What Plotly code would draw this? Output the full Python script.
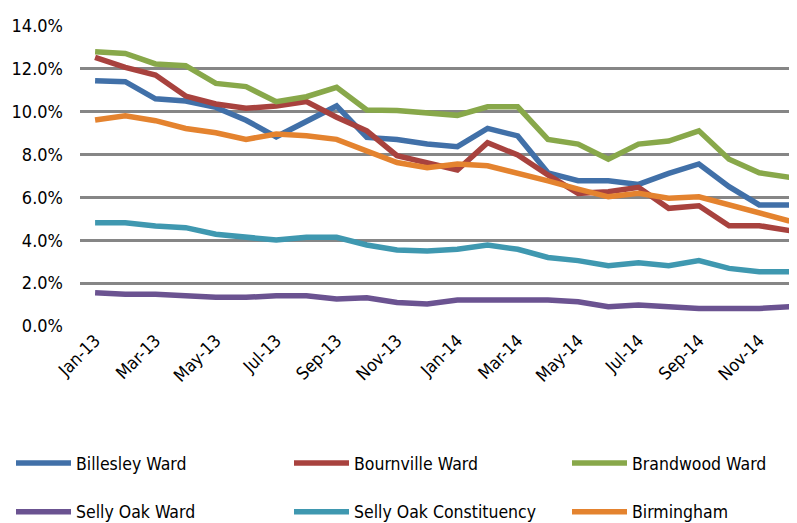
import plotly.graph_objects as go

months = [
    "Jan-13", "Feb-13", "Mar-13", "Apr-13", "May-13", "Jun-13",
    "Jul-13", "Aug-13", "Sep-13", "Oct-13", "Nov-13", "Dec-13",
    "Jan-14", "Feb-14", "Mar-14", "Apr-14", "May-14", "Jun-14",
    "Jul-14", "Aug-14", "Sep-14", "Oct-14", "Nov-14", "Dec-14",
]

billesley = [11.45, 11.4, 10.6, 10.5, 10.2, 9.6, 8.83, 9.53, 10.27, 8.8, 8.7, 8.49,
             8.37, 9.22, 8.87, 7.15, 6.78, 6.78, 6.61, 7.12, 7.56, 6.5, 5.65, 5.65]
bournville = [12.54, 12.07, 11.71, 10.73, 10.36, 10.16, 10.27, 10.47, 9.74, 9.11, 7.95, 7.62,
              7.28, 8.55, 7.98, 7.05, 6.19, 6.27, 6.47, 5.49, 5.61, 4.68, 4.68, 4.45]
brandwood = [12.8, 12.72, 12.23, 12.15, 11.32, 11.17, 10.47, 10.7, 11.14, 10.08, 10.06, 9.95,
             9.83, 10.23, 10.23, 8.71, 8.49, 7.78, 8.49, 8.63, 9.11, 7.78, 7.15, 6.94]
selly_oak_ward = [1.55, 1.48, 1.48, 1.4, 1.34, 1.34, 1.41, 1.41, 1.26, 1.32, 1.1, 1.03,
                  1.21, 1.21, 1.21, 1.21, 1.13, 0.9, 0.98, 0.9, 0.82, 0.82, 0.82, 0.9]
selly_oak_const = [4.82, 4.82, 4.67, 4.59, 4.28, 4.14, 4.01, 4.14, 4.14, 3.78, 3.55, 3.5,
                   3.58, 3.78, 3.58, 3.2, 3.05, 2.81, 2.95, 2.81, 3.05, 2.69, 2.53, 2.53]
birmingham = [9.61, 9.81, 9.58, 9.22, 9.02, 8.71, 8.96, 8.88, 8.71, 8.18, 7.63, 7.39,
              7.56, 7.48, 7.15, 6.77, 6.39, 6.03, 6.19, 5.96, 6.03, 5.65, 5.26, 4.9]

y_ticks = [0, 2, 4, 6, 8, 10, 12, 14]

FONT = "DejaVu Sans Condensed, DejaVu Sans, sans-serif"

# the page puts the figure 8px in from the top-left corner, so size it to fit
W, H = 789, 515

# name, values, colour, legend column (one vertical legend per column)
series = [
    ("Billesley Ward", billesley, "#4170A8", "legend"),
    ("Bournville Ward", bournville, "#A8423E", "legend2"),
    ("Brandwood Ward", brandwood, "#88A84A", "legend3"),
    ("Selly Oak Ward", selly_oak_ward, "#6B5391", "legend"),
    ("Selly Oak Constituency", selly_oak_const, "#3F98B0", "legend2"),
    ("Birmingham", birmingham, "#E4832F", "legend3"),
]

fig = go.Figure()
for name, vals, color, leg in series:
    fig.add_trace(go.Scatter(
        x=months, y=vals, name=name, mode="lines",
        line=dict(color=color, width=5.5),
        legend=leg, legendgroup=name,
    ))

legend_style = dict(
    orientation="v",
    xref="container", yref="container",
    xanchor="left", yanchor="top",
    y=1 - 437 / H,
    tracegroupgap=23,
    itemwidth=55,
    font=dict(family=FONT, size=17.5, color="#000000"),
    bgcolor="rgba(0,0,0,0)",
)

fig.update_layout(
    width=W, height=H,
    margin=dict(l=72, r=0, t=18, b=197, autoexpand=False),
    plot_bgcolor="white", paper_bgcolor="white",
    font=dict(family=FONT, size=16, color="#000000"),
    showlegend=True,
    legend=dict(legend_style, x=3 / W),
    legend2=dict(legend_style, x=281 / W),
    legend3=dict(legend_style, x=559 / W),
    xaxis=dict(
        type="category",
        range=[-0.5, 23.25],
        tickmode="array",
        tickvals=months[::2],
        tickangle=-45,
        showgrid=False, showline=False, ticks="",
        automargin=False,
        tickfont=dict(family=FONT, size=17.5),
    ),
    yaxis=dict(
        range=[0, 14],
        tickvals=y_ticks,
        ticktext=[f"{v:.1f}%" for v in y_ticks],
        showgrid=True, gridcolor="#868686", gridwidth=2.5,
        zeroline=False, showline=False, ticks="",
        automargin=False,
        ticklabelstandoff=16,
        tickfont=dict(family=FONT, size=18),
    ),
)

fig.write_html("out.html")
